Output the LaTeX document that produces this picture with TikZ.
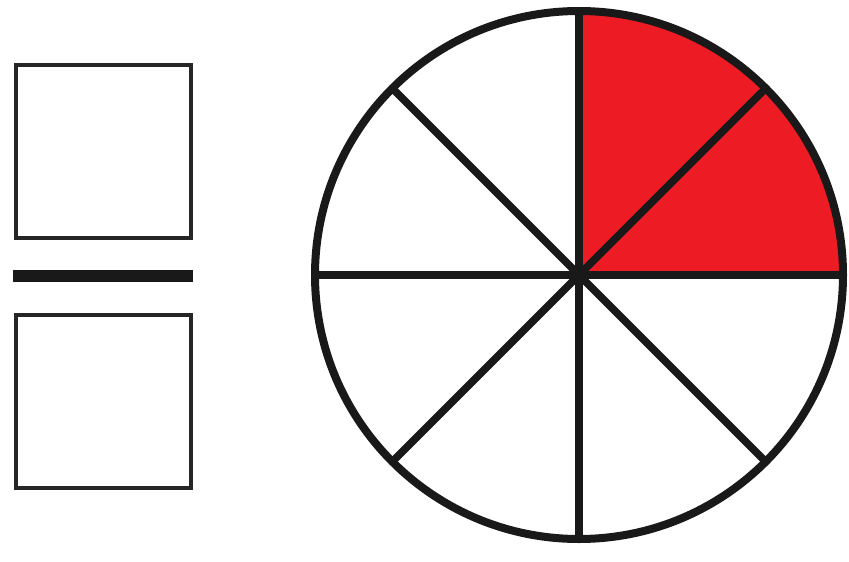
\documentclass[tikz,border=0pt]{standalone}
\usepackage{tikz}
\usetikzlibrary{positioning}
\definecolor{slicered}{RGB}{237,28,36}
\tikzset{
  numbox/.style={draw=black!85,line width=4pt,minimum width=175pt,minimum height=173pt,inner sep=0pt},
  fracbar/.style={fill=black!90,minimum width=180pt,minimum height=12pt,inner sep=0pt},
  dial/.style={circle,draw=black!90,line width=8pt,minimum size=528pt,inner sep=0pt,outer sep=0pt},
  spoke/.style={line width=7.5pt,black!90}
}
\begin{document}
\begin{tikzpicture}[x=1pt,y=-1pt]
  \useasboundingbox (0,0) rectangle (849,562);
  % fraction on the left
  \node[numbox] (num) at (103,151) {};
  \node[fracbar] (bar) at (103,275.5) {};
  \node[numbox] (den) at (103,401) {};
  % circle cut in eighths, two of them shaded
  \coordinate (c) at (579,275);
  \fill[slicered] (c) -- ++(264,0) arc[start angle=0,end angle=-90,radius=264] -- cycle;
  \node[dial] (pie) at (c) {};
  \foreach \a in {0,45,...,315}
    \draw[spoke] (pie.center) -- (pie.\a);
\end{tikzpicture}
\end{document}
